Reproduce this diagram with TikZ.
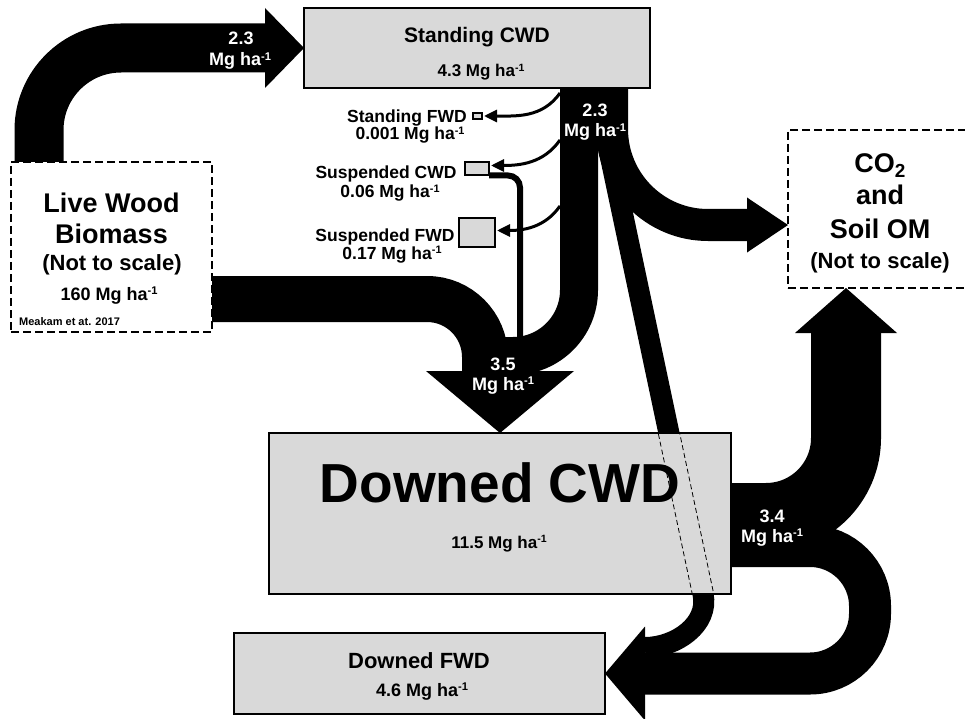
\documentclass[tikz,border=0pt]{standalone}
\usepackage{fontspec}
\setmainfont{Liberation Sans}
\usetikzlibrary{arrows.meta,calc,positioning}
\definecolor{boxgray}{HTML}{D9D9D9}
\pgfdeclarelayer{bands}
\pgfsetlayers{bands,main}
\newcommand\mgha{Mg ha\raisebox{0.32em}{\scalebox{0.62}{-1}}}

\begin{document}
\begin{tikzpicture}[x=1pt,y=1pt,
	pool_node/.style={draw,line width=2pt,fill=boxgray,inner sep=0pt,outer sep=0pt},
	open_node/.style={draw,line width=2pt,dash pattern=on 8pt off 4pt,fill=white,inner sep=0pt,outer sep=0pt},
	band/.style={draw=black,line cap=butt},
	twig_arrow/.style={draw,line width=3pt,-{Triangle[length=13pt,width=12pt]}},
	seam/.style={draw,line width=0.8pt,dash pattern=on 5pt off 3pt},
	txt/.style={anchor=base,inner sep=0pt,font=\bfseries\fontsize{#1}{#1}\selectfont},
	flux/.style={txt=#1,text=white}]

		\useasboundingbox (0,0) rectangle (965,-719);

		\node[open_node,minimum width=201pt,minimum height=170pt] (live) at (111.5,-247) {};
		\node[pool_node,minimum width=346pt,minimum height=80pt] (standing) at (477,-48) {};
		\node[open_node,minimum width=184pt,minimum height=158pt] (co2) at (880,-209) {};
		\node[pool_node,minimum width=462pt,minimum height=161pt] (dcwd) at (500,-513.5) {};
		\node[pool_node,minimum width=371pt,minimum height=81pt] (dfwd) at (419.5,-673.5) {};
		\node[pool_node,line width=1.2pt,minimum width=9pt,minimum height=6pt] (sfwd) at (477.5,-116) {};
		\node[pool_node,minimum width=24pt,minimum height=13pt] (suscwd) at (477,-168.5) {};
		\node[pool_node,minimum width=36pt,minimum height=29pt] (susfwd) at (477,-232.5) {};

		\coordinate (merge) at ([yshift=62pt]dcwd.north);
		\coordinate (split) at ([xshift=132pt,yshift=-62pt]standing.south);
		\coordinate (diag_end) at ([xshift=-28pt]dcwd.south east);
		\coordinate (tap1) at ([xshift=83pt,yshift=-5pt]standing.south);
		\coordinate (tap2) at ([xshift=83pt,yshift=-52pt]standing.south);
		\coordinate (tap3) at ([xshift=83pt,yshift=-118pt]standing.south);

		\begin{pgfonlayer}{bands}
		\draw[band,line width=49pt,rounded corners=82pt] ([xshift=28pt]live.north west) |- ([xshift=-39pt]standing.west);
		\fill (standing.west) -- ++(-39,40) -- ++(0,-80) -- cycle;
		\draw[band,line width=46pt,rounded corners=58pt] ([yshift=-52pt]live.east) -| ([xshift=-15pt,yshift=-2pt]merge);
		\draw[band,line width=38pt] ([xshift=102pt]standing.south) -- ++(0,-202) arc[start angle=0,end angle=-90,radius=66pt] -- ++(-20,0);
		\draw[band,line width=32pt,rounded corners=96pt] ([xshift=135pt]standing.south) |- ([xshift=-41pt,yshift=-16pt]co2.west);
		\fill ([yshift=-16pt]co2.west) -- ++(-41,27.5) -- ++(0,-55) -- cycle;
		\draw[band,line width=21pt] (split) -- (diag_end) to[out=-78,in=0] ([xshift=40pt,yshift=26pt]dfwd.east);
		\draw[line width=6pt,rounded corners=12pt] ([yshift=-7pt]suscwd.east) -| ([xshift=20pt]merge);
		\fill (dcwd.north) -- ++(-74,62) -- ++(148,0) -- cycle;
		\draw[band,line width=70pt,rounded corners=80pt] ([yshift=-4.5pt]dcwd.east) -| ([xshift=-34pt,yshift=-45pt]co2.south);
		\fill ([xshift=-34pt]co2.south) -- ++(-51,-45) -- ++(102,0) -- cycle;
		\draw[band,line width=42pt,rounded corners=60pt] ([yshift=-32.5pt]dcwd.east) -- ++(139,0) |- ([xshift=40pt]dfwd.east);
		\fill (dfwd.east) -- ++(40,47) -- ++(0,-94) -- cycle;
		\end{pgfonlayer}

		\draw[twig_arrow] (tap1) to[out=-125,in=0] ([xshift=2pt]sfwd.east);
		\draw[twig_arrow] (tap2) to[out=-125,in=0] ([xshift=2pt,yshift=3pt]suscwd.east);
		\draw[twig_arrow] (tap3) to[out=-125,in=0] ([xshift=2pt,yshift=2pt]susfwd.east);

		\node[flux=18] at (241,-45) {2.3};
		\node[flux=18] at (240,-66) {\mgha};
		\node[flux=18] at (595,-117) {2.3};
		\node[flux=18] at (595,-137) {\mgha};
		\node[flux=18] at (503,-370) {3.5};
		\node[flux=18] at (503,-390) {\mgha};
		\node[flux=18] at (772,-522) {3.4};
		\node[flux=18] at (772,-542) {\mgha};

		\node[txt=21] at (477,-43) {Standing CWD};
		\node[txt=17] at (481,-77) {4.3 \mgha};
		\node[txt=17.5] at (407,-123) {Standing FWD};
		\node[txt=17.5] at (410,-140) {0.001 \mgha};
		\node[txt=17.5] at (386,-179) {Suspended CWD};
		\node[txt=17.5] at (390,-198) {0.06 \mgha};
		\node[txt=17.5] at (385,-241) {Suspended FWD};
		\node[txt=17.5] at (392,-259) {0.17 \mgha};

		\node[txt=27] at (111.5,-212) {Live Wood};
		\node[txt=27] at (111.5,-243) {Biomass};
		\node[txt=22] at (112,-270) {(Not to scale)};
		\node[txt=18] at (109,-300) {160 \mgha};
		\node[txt=11,anchor=base west] at (19,-325) {Meakam et at. 2017};

		\node[txt=27] at (880,-173) {CO\textsubscript{2}};
		\node[txt=27] at (880,-205) {and};
		\node[txt=27] at (880,-238) {Soil OM};
		\node[txt=22] at (880,-268) {(Not to scale)};

		\node[txt=55] at (500,-502) {Downed CWD};
		\node[txt=17] at (499,-548) {11.5 \mgha};
		\node[txt=22] at (419,-668) {Downed FWD};
		\node[txt=18] at (422,-696) {4.6 \mgha};

		\begin{scope}
		\clip ([yshift=1pt]dcwd.south west) rectangle ([yshift=-1pt]dcwd.north east);
		\draw[seam] ($(split)!10.5pt!90:(diag_end)$) -- ($(diag_end)!10.5pt!-90:(split)$);
		\draw[seam] ($(split)!10.5pt!-90:(diag_end)$) -- ($(diag_end)!10.5pt!90:(split)$);
		\end{scope}
\end{tikzpicture}
\end{document}
